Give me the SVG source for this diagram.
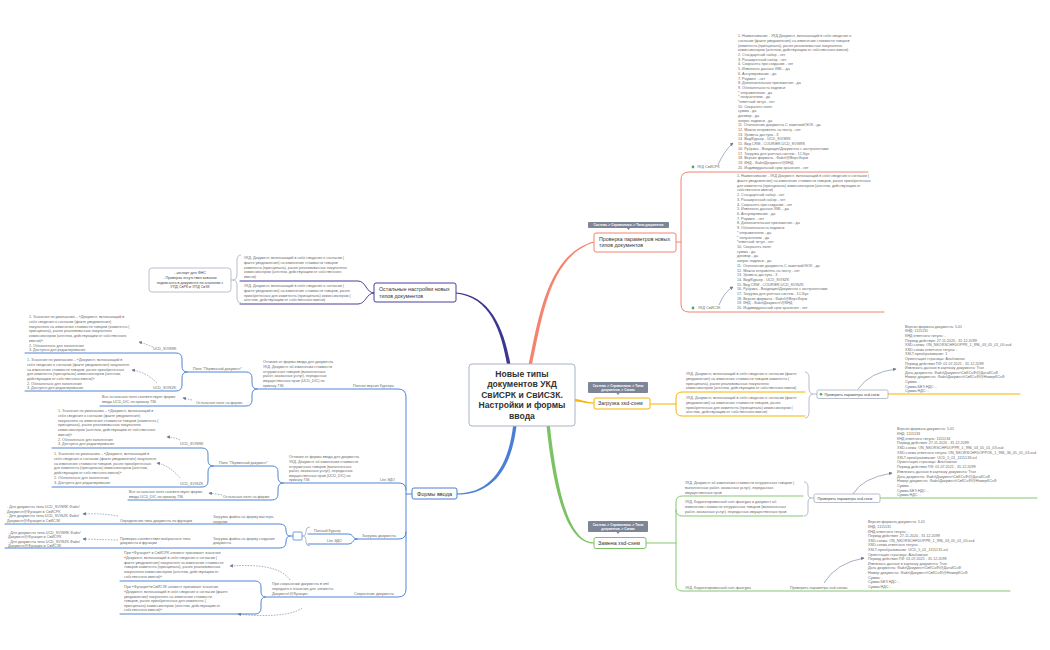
<svg xmlns="http://www.w3.org/2000/svg" width="1050" height="650" viewBox="0 0 1050 650">
<style>
text{font-family:"Liberation Sans",Arial,sans-serif}
.s{font-size:3.7px;fill:#6a6a6a}
.m{font-size:5.3px;fill:#333}
.tg{font-size:3.1px;fill:#fff;font-weight:bold;text-anchor:middle}
.c{font-size:8.6px;font-weight:bold;fill:#333;text-anchor:middle}
.ln{fill:none;stroke-width:1;stroke-linecap:round}
.red{stroke:#f28470}.pur{stroke:#4a3f9c}.blu{stroke:#4f86d6}.yel{stroke:#f5b400}.grn{stroke:#84c76c}
.gb{fill:none;stroke:#a3abbb;stroke-width:0.8}
.rel{fill:none;stroke:#6c7a99;stroke-width:0.6;marker-end:url(#ah)}
.dash{stroke-dasharray:1.6 1.2}
.tag{fill:#7d8597}
</style>
<defs>
<marker id="ah" viewBox="0 0 6 6" refX="5" refY="3" markerWidth="3.5" markerHeight="3.5" markerUnits="userSpaceOnUse" orient="auto"><path d="M0,0 L6,3 L0,6 z" fill="#6c7a99"/></marker>
</defs>
<rect width="1050" height="650" fill="#fff"/>

<g id="connectors">
<!-- main branches (tapered) -->
<path d="M528.3,366 C538.3,319.5 547,254 594,241.4 L594,242.6 C549,256 541.7,320.5 531.7,366 Z" fill="#f28470"/>
<path d="M507.3,366 C501.3,331 490,297 456,293.6 L456,292.4 C490,294.6 504.7,329 510.7,366 Z" fill="#3d3590"/>
<path d="M516.7,424 C511.7,471 491,494.6 457,494.6 L457,493.4 C489,493.4 508.3,469 513.3,424 Z" fill="#4a7fd4"/>
<path d="M546.3,424 C554.3,501 569,543.6 594,543.6 L594,542.4 C571,542.4 557.7,499 549.7,424 Z" fill="#7cc264"/>
<path d="M574,398.7 C583,399.8 586,402.4 594,402.4 L594,403.6 C586,403.6 583,402.2 574,401.3 Z" fill="#f5b400"/>

<!-- red bracket -->
<path class="ln red" d="M676,242 H681 M868,172 H689 Q681,172 681,180 V304 Q681,312 689,312 H884"/>
<!-- yellow -->
<path class="ln yel" d="M650,404 H676 M805,392 H682 Q676,392 676,398 V410 Q676,416 682,416 H805 M888,394 H1020"/>
<!-- green -->
<path class="ln grn" d="M646,543 H676 M803,496 H682 Q676,496 676,502 V585 Q676,591 682,591 H1010 M676,510 Q676,516 682,516 H803 M880,498 H1037"/>
<!-- purple -->
<path class="ln pur" d="M374,293 C366,293 366,281 358,281 H240 M374,293 C366,293 366,304 358,304 H240"/>
<!-- blue left tree -->
<path class="ln blu" d="M412,494 H406 M257,389 H398 Q406,389 406,397 V589 Q406,597 398,597 H265"/>
<path class="ln blu" d="M283,483 H399 Q406,483 406,490 M355,539 H399 Q406,539 406,532"/>
<path class="ln blu" d="M257,389 Q252,389 252,383 V378 Q252,372 246,372 H187 M257,389 Q252,389 252,395 V400 Q252,406 246,406 H100"/>
<path class="ln blu" d="M187,372 Q182,372 182,366 V359 Q182,353 176,353 H25 M187,372 Q182,372 182,378 V385 Q182,391 176,391 H25"/>
<path class="ln blu" d="M283,483 Q278,483 278,477 V472 Q278,466 272,466 H213 M283,483 Q278,483 278,489 V494 Q278,500 272,500 H128"/>
<path class="ln blu" d="M213,466 Q208,466 208,460 V454 Q208,448 202,448 H52 M213,466 Q208,466 208,472 V481 Q208,487 202,487 H52"/>
<path class="ln blu" d="M357,539 C352,539 354,534 348,534 H308 M357,539 C352,539 354,544 348,544 H308"/>
<path class="ln blu" d="M293,536 H290 Q286,536 286,530 Q286,524 280,524 H5 M290,536 Q286,536 286,542 Q286,548 280,548 H5"/>
<path class="ln blu" d="M265,597 Q261,597 261,591 V587 Q261,581 255,581 H120 M265,597 Q261,597 261,603 V608 Q261,614 255,614 H120"/>

<!-- summary brackets -->
<path class="gb" d="M241,255 Q237,255 237,261 V274 Q237,280 233,280 Q237,280 237,286 V297 Q237,303 241,303 M233,280 H231"/>
<path class="gb" d="M805,372 Q809,372 809,378 V388 Q809,394 813,394 Q809,394 809,400 V412 Q809,418 805,418 M813,394 H817"/>
<path class="gb" d="M804,482 Q808,482 808,487 V493 Q808,498 811,498 Q808,498 808,503 V511 Q808,516 804,516 M811,498 H814"/>
<path class="gb" d="M310,527 Q306,527 306,531 V532 Q306,536 303,536 Q306,536 306,540 V542 Q306,546 310,546 M303,536 H302"/>

<!-- relationships -->
<path class="rel" d="M718,165 Q724,151 733,143"/>
<path class="rel" d="M719,305 Q724,292 733,287"/>
<path class="rel" d="M858,389 Q870,372 896,369"/>
<path class="rel" d="M853,494 Q862,478 892,473"/>
<path class="rel" d="M824,583 Q836,563 864,558"/>
<path class="rel dash" d="M153,347 Q146,344 139,342"/>
<path class="rel dash" d="M157,383 Q146,372 132,370"/>
<path class="rel dash" d="M192,400 L183,398"/>
<path class="rel dash" d="M180,440 Q174,437 167,437"/>
<path class="rel dash" d="M180,478 Q169,465 157,463"/>
<path class="rel dash" d="M222,495 L209,493"/>
<path class="rel dash" d="M118,516 Q100,513 83,514"/>
<path class="rel dash" d="M118,540 L83,539"/>
<path class="rel dash" d="M290,580 C282,568 262,564 230,566"/>
<path class="rel dash" d="M302,608 C292,616 262,617 238,614"/>
</g>

<g id="central">
<rect x="469" y="364" width="106" height="62" rx="3" fill="#fff" stroke="#a9b4c8" stroke-width="1"/>
<text class="c" x="522" y="377">Новые типы<tspan x="522" dy="10.4">документов УКД</tspan><tspan x="522" dy="10.4">СвИСРК и СвИСЗК.</tspan><tspan x="522" dy="10.4">Настройки и формы</tspan><tspan x="522" dy="10.4">ввода</tspan></text>
</g>

<g id="check-params">
<rect class="tag" x="588" y="222" width="81" height="6" rx="1"/>
<path class="tag" d="M627,228 L630,228 L628.5,230 z"/>
<text class="tg" x="628.5" y="226.2">Система -&gt; Справочники -&gt; Типы документов</text>
<rect x="594" y="233" width="82" height="19" rx="2" fill="#fff" stroke="#f28470" stroke-width="1"/>
<text class="m" x="599" y="240.6">Проверка параметров новых<tspan x="599" dy="6.5">типов документов</tspan></text>
</g>

<g id="ukd-svisrk">
<circle cx="693" cy="167" r="1.4" fill="#4caf50"/>
<text class="s" x="697" y="168.3">УКД СвИСРК</text>
<text class="s" x="738" y="37.3">1. Наименование - УКД Документ, включающий в себя сведения о<tspan x="738" dy="4.69">согласии (факте уведомления) на изменение стоимости товаров</tspan><tspan x="738" dy="4.69">(комитента (принципала), ранее реализованных покупателю</tspan><tspan x="738" dy="4.69">комиссионером (агентом, действующим от собственного имени)</tspan><tspan x="738" dy="4.69">2. Стандартный набор - нет</tspan><tspan x="738" dy="4.69">3. Расширенный набор - нет</tspan><tspan x="738" dy="4.69">4. Сохранять при создании - нет</tspan><tspan x="738" dy="4.69">5. Извлекать данные XML - да</tspan><tspan x="738" dy="4.69">6. Аннулирование - да</tspan><tspan x="738" dy="4.69">7. Роуминг - нет</tspan><tspan x="738" dy="4.69">8. Дополнительные приложения - да</tspan><tspan x="738" dy="4.69">9. Обязательность подписи:</tspan><tspan x="738" dy="4.69">* отправителем - да</tspan><tspan x="738" dy="4.69">* получателем - да</tspan><tspan x="738" dy="4.69">*ответный титул - нет</tspan><tspan x="738" dy="4.69">10. Сохранять поля:</tspan><tspan x="738" dy="4.69">сумма - да</tspan><tspan x="738" dy="4.69">договор - да</tspan><tspan x="738" dy="4.69">запрос подписи - да</tspan><tspan x="738" dy="4.69">11. Отключение документа С заметкой/ЭОК - да</tspan><tspan x="738" dy="4.69">12. Можно отправлять на почту - нет</tspan><tspan x="738" dy="4.69">13. Уровень доступа - 3</tspan><tspan x="738" dy="4.69">14. Вид/Курьер - UCD_SVISRK</tspan><tspan x="738" dy="4.69">15. Вид CRM - COURIER.UCD_SVISRK</tspan><tspan x="738" dy="4.69">16. Рубрика - Входящие\Документы с контрагентами</tspan><tspan x="738" dy="4.69">17. Загрузка для учетных систем - 1С:Бух</tspan><tspan x="738" dy="4.69">18. Версия формата - Файл\@ВерсФорм</tspan><tspan x="738" dy="4.69">19. КНД - Файл\Документ\@КНД</tspan><tspan x="738" dy="4.69">20. Индивидуальный срок хранения - нет</tspan></text>
</g>

<g id="ukd-sviszk">
<circle cx="693" cy="308" r="1.4" fill="#4caf50"/>
<text class="s" x="698" y="309.3">УКД СвИСЗК</text>
<text class="s" x="737" y="177.3">1. Наименование - УКД Документ, включающий в себя сведения о согласии (<tspan x="737" dy="4.71">факте уведомления) на изменение стоимости товаров, ранее приобретенных</tspan><tspan x="737" dy="4.71">для комитента (принципала) комиссионером (агентом, действующим от</tspan><tspan x="737" dy="4.71">собственного имени)</tspan><tspan x="737" dy="4.71">2. Стандартный набор - нет</tspan><tspan x="737" dy="4.71">3. Расширенный набор - нет</tspan><tspan x="737" dy="4.71">4. Сохранять при создании - нет</tspan><tspan x="737" dy="4.71">5. Извлекать данные XML - да</tspan><tspan x="737" dy="4.71">6. Аннулирование - да</tspan><tspan x="737" dy="4.71">7. Роуминг - нет</tspan><tspan x="737" dy="4.71">8. Дополнительные приложения - да</tspan><tspan x="737" dy="4.71">9. Обязательность подписи:</tspan><tspan x="737" dy="4.71">* отправителем - да</tspan><tspan x="737" dy="4.71">* получателем - да</tspan><tspan x="737" dy="4.71">*ответный титул - нет</tspan><tspan x="737" dy="4.71">10. Сохранять поля:</tspan><tspan x="737" dy="4.71">сумма - да</tspan><tspan x="737" dy="4.71">договор - да</tspan><tspan x="737" dy="4.71">запрос подписи - да</tspan><tspan x="737" dy="4.71">11. Отключение документа С заметкой/ЭОК - да</tspan><tspan x="737" dy="4.71">12. Можно отправлять на почту - нет</tspan><tspan x="737" dy="4.71">13. Уровень доступа - 3</tspan><tspan x="737" dy="4.71">14. Вид/Курьер - UCD_SVISZK</tspan><tspan x="737" dy="4.71">15. Вид CRM - COURIER.UCD_SVISZK</tspan><tspan x="737" dy="4.71">16. Рубрика - Входящие\Документы с контрагентами</tspan><tspan x="737" dy="4.71">17. Загрузка для учетных систем - 1С:Бух</tspan><tspan x="737" dy="4.71">18. Версия формата - Файл\@ВерсФорм</tspan><tspan x="737" dy="4.71">19. КНД - Файл\Документ\@КНД</tspan><tspan x="737" dy="4.71">20. Индивидуальный срок хранения - нет</tspan></text>
</g>

<g id="load-xsd">
<rect class="tag" x="588" y="382" width="60" height="11" rx="1"/>
<path class="tag" d="M616.5,393 L619.5,393 L618,395 z"/>
<text class="tg" x="618" y="386.6">Система -&gt; Справочники -&gt; Типы<tspan x="618" dy="4.4">документов -&gt; Схемы</tspan></text>
<rect x="594" y="398" width="56" height="11" rx="2" fill="#fff" stroke="#f5b400" stroke-width="1"/>
<text class="m" x="598" y="405.4">Загрузка xsd-схем</text>
</g>

<g id="load-children">
<text class="s" x="686" y="375.3">УКД. Документ, включающий в себя сведения о согласии (факте<tspan x="686" dy="4.7">уведомления) на изменение стоимости товаров комитента (</tspan><tspan x="686" dy="4.7">принципала), ранее реализованных покупателю</tspan><tspan x="686" dy="4.7">комиссионером (агентом, действующим от собственного имени)</tspan></text>
<text class="s" x="686" y="399.3">УКД. Документ, включающий в себя сведения о согласии (факте<tspan x="686" dy="4.7">уведомления) на изменение стоимости товаров, ранее</tspan><tspan x="686" dy="4.7">приобретенных для комитента (принципала) комиссионером (</tspan><tspan x="686" dy="4.7">агентом, действующим от собственного имени)</tspan></text>
</g>

<g id="load-check">
<rect x="817" y="390" width="71" height="8.5" rx="1.5" fill="#fff" stroke="#9aa3b5" stroke-width="0.7"/>
<circle cx="821" cy="394.2" r="1.3" fill="#4caf50"/>
<text class="s" x="824.5" y="395.6" style="fill:#444">Проверить параметры xsd-схем</text>
<text class="s" x="905" y="327.8">Версия формата документа: 5.01<tspan x="905" dy="4.6">КНД: 1115131</tspan><tspan x="905" dy="4.6">КНД ответного титула: -</tspan><tspan x="905" dy="4.6">Период действия: 27.11.2020 - 31.12.2099</tspan><tspan x="905" dy="4.6">XSD-схема: ON_NKORSCHFDOPPR_1_996_03_05_01_00.xsd</tspan><tspan x="905" dy="4.6">XSD-схема ответного титула: -</tspan><tspan x="905" dy="4.6">XSLT-преобразование: 1</tspan><tspan x="905" dy="4.6">Ориентация страницы: Альбомная</tspan><tspan x="905" dy="4.6">Период действия ПФ: 01.07.2021 - 31.12.2099</tspan><tspan x="905" dy="4.6">Извлекать данные в карточку документа: True</tspan><tspan x="905" dy="4.6">Дата документа: Файл\Документ\СвКСчФ\@ДатаКСчФ</tspan><tspan x="905" dy="4.6">Номер документа: Файл\Документ\СвКСчФ\@НомерКСчФ</tspan><tspan x="905" dy="4.6">Сумма: -</tspan><tspan x="905" dy="4.6">Сумма БЕЗ НДС: -</tspan><tspan x="905" dy="4.6">Сумма НДС: -</tspan></text>
</g>

<g id="replace-xsd">
<rect class="tag" x="588" y="521" width="60" height="11" rx="1"/>
<path class="tag" d="M616.5,532 L619.5,532 L618,534 z"/>
<text class="tg" x="618" y="525.6">Система -&gt; Справочники -&gt; Типы<tspan x="618" dy="4.4">документов -&gt; Схемы</tspan></text>
<rect x="594" y="537.5" width="52" height="11" rx="2" fill="#fff" stroke="#7cc264" stroke-width="1"/>
<text class="m" x="598" y="544.9">Замена xsd-схем</text>
</g>

<g id="replace-children">
<text class="s" x="685" y="484.3">УКД. Документ об изменении стоимости отгруженных товаров (<tspan x="685" dy="4.7">выполненных работ, оказанных услуг), переданных</tspan><tspan x="685" dy="4.7">имущественных прав</tspan></text>
<text class="s" x="685" y="503.3">УКД. Корректировочный счет-фактуры и документ об<tspan x="685" dy="4.7">изменении стоимости отгруженных товаров (выполненных</tspan><tspan x="685" dy="4.7">работ, оказанных услуг), переданных имущественных прав</tspan></text>
<text class="s" x="685" y="589.3">УКД. Корректировочный счет-фактуры</text>
</g>

<g id="replace-check1">
<rect x="814" y="494" width="66" height="8.5" rx="1.5" fill="#fff" stroke="#9aa3b5" stroke-width="0.7"/>
<text class="s" x="817.5" y="499.6" style="fill:#444">Проверить параметры xsd-схем</text>
<text class="s" x="897" y="430.3">Версия формата документа: 5.01<tspan x="897" dy="4.72">КНД: 1115133</tspan><tspan x="897" dy="4.72">КНД ответного титула: 1115134</tspan><tspan x="897" dy="4.72">Период действия: 27.11.2020 - 31.12.2099</tspan><tspan x="897" dy="4.72">XSD-схема: ON_NKORSCHFDOPPR_1_996_03_05_01_03.xsd</tspan><tspan x="897" dy="4.72">XSD-схема ответного титула: ON_NKORSCHFDOPPOK_1_996_36_05_01_03.xsd</tspan><tspan x="897" dy="4.72">XSLT-преобразование: UCD_5_01_1115133.xsl</tspan><tspan x="897" dy="4.72">Ориентация страницы: Альбомная</tspan><tspan x="897" dy="4.72">Период действия ПФ: 01.07.2021 - 31.12.2099</tspan><tspan x="897" dy="4.72">Извлекать данные в карточку документа: True</tspan><tspan x="897" dy="4.72">Дата документа: Файл\Документ\СвКСчФ\@ДатаКСчФ</tspan><tspan x="897" dy="4.72">Номер документа: Файл\Документ\СвКСчФ\@НомерКСчФ</tspan><tspan x="897" dy="4.72">Сумма: -</tspan><tspan x="897" dy="4.72">Сумма БЕЗ НДС: -</tspan><tspan x="897" dy="4.72">Сумма НДС: -</tspan></text>
</g>

<g id="replace-check2">
<text class="s" x="790" y="589.3">Проверить параметры xsd-схемы</text>
<text class="s" x="868" y="523.3">Версия формата документа: 5.01<tspan x="868" dy="4.6">КНД: 1115131</tspan><tspan x="868" dy="4.6">КНД ответного титула: -</tspan><tspan x="868" dy="4.6">Период действия: 27.11.2020 - 31.12.2099</tspan><tspan x="868" dy="4.6">XSD-схема: ON_NKORSCHFDOPPR_1_996_03_05_01_00.xsd</tspan><tspan x="868" dy="4.6">XSD-схема ответного титула: -</tspan><tspan x="868" dy="4.6">XSLT-преобразование: UCD_5_01_1115131.xsl</tspan><tspan x="868" dy="4.6">Ориентация страницы: Альбомная</tspan><tspan x="868" dy="4.6">Период действия ПФ: 01.07.2021 - 31.12.2099</tspan><tspan x="868" dy="4.6">Извлекать данные в карточку документа: True</tspan><tspan x="868" dy="4.6">Дата документа: Файл\Документ\СвКСчФ\@ДатаКСчФ</tspan><tspan x="868" dy="4.6">Номер документа: Файл\Документ\СвКСчФ\@НомерКСчФ</tspan><tspan x="868" dy="4.6">Сумма: -</tspan><tspan x="868" dy="4.6">Сумма БЕЗ НДС: -</tspan><tspan x="868" dy="4.6">Сумма НДС: -</tspan></text>
</g>

<g id="other-settings">
<rect x="374" y="283" width="82" height="19" rx="2" fill="#fff" stroke="#4a3f9c" stroke-width="1"/>
<text class="m" x="379" y="291">Остальные настройки новых<tspan x="379" dy="6.5">типов документов</tspan></text>
<text class="s" x="244" y="259.3">УКД. Документ, включающий в себя сведения о согласии (<tspan x="244" dy="4.6">факте уведомления) на изменение стоимости товаров</tspan><tspan x="244" dy="4.6">комитента (принципала), ранее реализованных покупателю</tspan><tspan x="244" dy="4.6">комиссионером (агентом, действующим от собственного</tspan><tspan x="244" dy="4.6">имени)</tspan></text>
<text class="s" x="244" y="287.3">УКД. Документ, включающий в себя сведения о согласии (<tspan x="244" dy="4.7">факте уведомления) на изменение стоимости товаров, ранее</tspan><tspan x="244" dy="4.7">приобретенных для комитента (принципала) комиссионером (</tspan><tspan x="244" dy="4.7">агентом, действующим от собственного имени)</tspan></text>
</g>

<g id="export">
<rect x="149" y="268" width="82" height="24" rx="3" fill="#fff" stroke="#a9b2c3" stroke-width="0.8"/>
<text class="s" x="190" y="274.3" text-anchor="middle" style="fill:#444">- экспорт для ФНС<tspan x="190" dy="4.7">- Проверка отсутствия кавычек</tspan><tspan x="190" dy="4.7">подписанта в документе по аналогии с</tspan><tspan x="190" dy="4.7">УПД СвРК и УПД СвЗК</tspan></text>
</g>

<g id="input-forms">
<rect x="412" y="488" width="45" height="11" rx="2" fill="#fff" stroke="#4a7fd4" stroke-width="1"/>
<text class="m" x="417" y="495.8" style="font-size:5.6px">Формы ввода</text>
</g>

<g id="full-courier">
<text class="s" x="353" y="387.3">Полная версия Курьера</text>
<text class="s" x="263" y="363.3">Отличие от формы ввода для документа<tspan x="263" dy="4.7">УКД. Документ об изменении стоимости</tspan><tspan x="263" dy="4.7">отгруженных товаров (выполненных</tspan><tspan x="263" dy="4.7">работ, оказанных услуг), переданных</tspan><tspan x="263" dy="4.7">имущественных прав (UCD_DIC) по</tspan><tspan x="263" dy="4.7">приказу 736</tspan></text>
<text class="s" x="193" y="370.3">Поле "Первичный документ"</text>
<text class="s" x="196" y="404">Остальные поля на форме</text>
<text class="s" x="102" y="398.3">Все остальные поля соответствуют форме<tspan x="102" dy="4.6">ввода UCD_DIC по приказу 736</tspan></text>
<text class="s" x="153" y="350.3">UCD_SVISRK</text>
<text class="s" x="153" y="389.3">UCD_SVISZK</text>
<text class="s" x="29" y="318.3">1. Значение по умолчанию – «Документ, включающий в<tspan x="29" dy="4.7">себя сведения о согласии (факте уведомления)</tspan><tspan x="29" dy="4.7">покупателю на изменение стоимости товаров (комитента (</tspan><tspan x="29" dy="4.7">принципала), ранее реализованных покупателю</tspan><tspan x="29" dy="4.7">комиссионером (агентом, действующим от собственного</tspan><tspan x="29" dy="4.7">имени)»</tspan><tspan x="29" dy="4.7">2. Обязательно для заполнения</tspan><tspan x="29" dy="4.7">3. Доступно для редактирования</tspan></text>
<text class="s" x="27" y="361.3">1. Значение по умолчанию – «Документ, включающий в<tspan x="27" dy="4.67">себя сведения о согласии (факте уведомления) покупателя</tspan><tspan x="27" dy="4.67">на изменение стоимости товаров, ранее приобретенных</tspan><tspan x="27" dy="4.67">для комитента (принципала) комиссионером (агентом,</tspan><tspan x="27" dy="4.67">действующим от собственного имени)»</tspan><tspan x="27" dy="4.67">2. Обязательно для заполнения</tspan><tspan x="27" dy="4.67">3. Доступно для редактирования</tspan></text>
</g>

<g id="lite-edo">
<text class="s" x="380" y="481.3">Lite ЭДО</text>
<text class="s" x="289" y="458.3">Отличие от формы ввода для документа<tspan x="289" dy="4.6">УКД. Документ об изменении стоимости</tspan><tspan x="289" dy="4.6">отгруженных товаров (выполненных</tspan><tspan x="289" dy="4.6">работ, оказанных услуг), переданных</tspan><tspan x="289" dy="4.6">имущественных прав (UCD_DIC) по</tspan><tspan x="289" dy="4.6">приказу 736</tspan></text>
<text class="s" x="219" y="464.3">Поле "Первичный документ"</text>
<text class="s" x="223" y="498.3">Остальные поля на форме</text>
<text class="s" x="129" y="493.3">Все остальные поля соответствуют форме<tspan x="129" dy="4.5">ввода UCD_DIC по приказу 736</tspan></text>
<text class="s" x="180" y="445.3">UCD_SVISRK</text>
<text class="s" x="180" y="484.5">UCD_SVISZK</text>
<text class="s" x="58" y="412.3">1. Значение по умолчанию – «Документ, включающий в<tspan x="58" dy="4.7">себя сведения о согласии (факте уведомления)</tspan><tspan x="58" dy="4.7">покупателю на изменение стоимости товаров (комитента (</tspan><tspan x="58" dy="4.7">принципала), ранее реализованных покупателю</tspan><tspan x="58" dy="4.7">комиссионером (агентом, действующим от собственного</tspan><tspan x="58" dy="4.7">имени)»</tspan><tspan x="58" dy="4.7">2. Обязательно для заполнения</tspan><tspan x="58" dy="4.7">3. Доступно для редактирования</tspan></text>
<text class="s" x="54" y="455.3">1. Значение по умолчанию – «Документ, включающий в<tspan x="54" dy="4.7">себя сведения о согласии (факте уведомления) покупателя</tspan><tspan x="54" dy="4.7">на изменение стоимости товаров, ранее приобретенных</tspan><tspan x="54" dy="4.7">для комитента (принципала) комиссионером (агентом,</tspan><tspan x="54" dy="4.7">действующим от собственного имени)»</tspan><tspan x="54" dy="4.7">2. Обязательно для заполнения</tspan><tspan x="54" dy="4.7">3. Доступно для редактирования</tspan></text>
</g>

<g id="doc-load">
<text class="s" x="362" y="537.3">Загрузка документа</text>
<text class="s" x="314" y="532.3">Полный Курьер</text>
<text class="s" x="327" y="542.3">Lite ЭДО</text>
<rect x="293" y="532" width="9" height="8" rx="1" fill="#fff" stroke="#4f86d6" stroke-width="0.8"/>
<text class="s" x="213" y="518.3">Загрузка файла на форму мастера<tspan x="213" dy="4.4">загрузки</tspan></text>
<text class="s" x="213" y="539.8">Загрузка файла на форму создания<tspan x="213" dy="4.5">документа</tspan></text>
<text class="s" x="120" y="522">Определение типа документа по функции</text>
<text class="s" x="120" y="539.8">Проверка соответствия выбранного типа<tspan x="120" dy="4.5">документа и функции</tspan></text>
<text class="s" x="7" y="508.3">- Для документа типа UCD_SVISRK Файл/<tspan x="7" dy="4.5">Документ@Функция = СвИСРК</tspan><tspan x="7" dy="4.5">- Для документа типа UCD_SVISZK Файл/</tspan><tspan x="7" dy="4.5">Документ@Функция = СвИСЗК</tspan></text>
<text class="s" x="8" y="533.5">- Для документа типа UCD_SVISRK Файл/<tspan x="8" dy="4.5">Документ@Функция = СвИСРК</tspan><tspan x="8" dy="4.5">- Для документа типа UCD_SVISZK Файл/</tspan><tspan x="8" dy="4.5">Документ@Функция = СвИСЗК</tspan></text>
</g>

<g id="doc-save">
<text class="s" x="354" y="595.3">Сохранение документа</text>
<text class="s" x="272" y="585.3">При сохранении документа в xml<tspan x="272" dy="4.7">передается значение для элемента</tspan><tspan x="272" dy="4.7">Документ\@Функция</tspan></text>
<text class="s" x="124" y="554.3">При «Функция» = СвИСРК элемент принимает значение<tspan x="124" dy="4.7">«Документ, включающий в себя сведения о согласии (</tspan><tspan x="124" dy="4.7">факте уведомления) покупателя на изменение стоимости</tspan><tspan x="124" dy="4.7">товаров комитента (принципала), ранее реализованных</tspan><tspan x="124" dy="4.7">покупателю комиссионером (агентом, действующим от</tspan><tspan x="124" dy="4.7">собственного имени)»</tspan></text>
<text class="s" x="124" y="588.3">При «Функция»=СвИСЗК элемент принимает значение<tspan x="124" dy="4.6">«Документ, включающий в себя сведения о согласии (факте</tspan><tspan x="124" dy="4.6">уведомления) покупателя на изменение стоимости</tspan><tspan x="124" dy="4.6">товаров, ранее приобретенных для комитента (</tspan><tspan x="124" dy="4.6">принципала) комиссионером (агентом, действующим от</tspan><tspan x="124" dy="4.6">собственного имени)»</tspan></text>
</g>
</svg>
